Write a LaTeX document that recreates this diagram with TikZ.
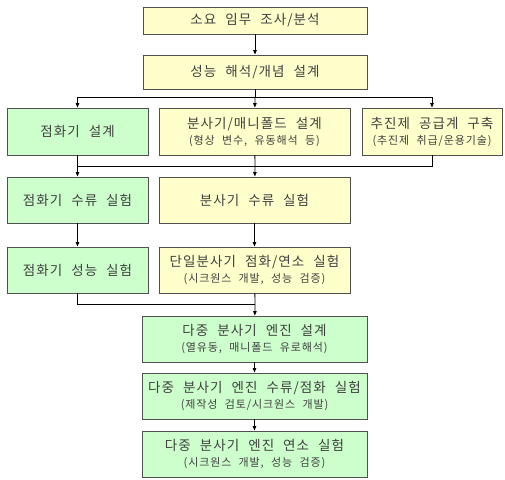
\documentclass[tikz,border=0pt]{standalone}
\usepackage{fontspec}
\setmainfont[LetterSpace=8,WordSpace=2.2]{Noto Sans CJK KR}
\usetikzlibrary{arrows.meta}
\definecolor{boxy}{HTML}{FFFFCC}
\definecolor{boxg}{HTML}{CCFFCC}
\definecolor{edge}{HTML}{505050}
\definecolor{ink}{HTML}{404040}
\newcommand{\sub}[1]{{\fontsize{11}{13}\selectfont #1}}
\begin{document}
\begin{tikzpicture}[x=1pt,y=-1pt,
    box/.style={draw=edge,line width=0.9pt,rectangle,align=center,text=ink,
        font=\fontsize{13.5}{16}\selectfont,inner sep=1pt},
    yel/.style={box,fill=boxy},
    grn/.style={box,fill=boxg},
    >={Triangle[length=4.5pt,width=3.5pt]},
    line width=0.8pt]
        \useasboundingbox (0,0) rectangle (505,479);
        \node [yel,minimum width=224,minimum height=27] (B1) at (255,20.5) {소요 임무 조사/분석};
        \node [yel,minimum width=224,minimum height=34] (B2) at (255,72) {성능 해석/개념 설계};
        \node [grn,minimum width=141,minimum height=47] (A1) at (77.5,131.5) {점화기 설계};
        \node [yel,minimum width=191,minimum height=47] (C1) at (254.5,131.5) {분사기/매니폴드 설계\\\sub{(형상 변수, 유동해석 등)}};
        \node [yel,minimum width=140,minimum height=47] (D1) at (432,131.5) {추진제 공급계 구축\\\sub{(추진제 취급/운용기술)}};
        \node [grn,minimum width=141,minimum height=46] (A2) at (77.5,200) {점화기 수류 실험};
        \node [yel,minimum width=191,minimum height=46] (C2) at (254.5,200) {분사기 수류 실험};
        \node [grn,minimum width=141,minimum height=46] (A3) at (77.5,270) {점화기 성능 실험};
        \node [yel,minimum width=191,minimum height=46] (C3) at (254.5,270) {단일분사기 점화/연소 실험\\\sub{(시크원스 개발, 성능 검증)}};
        \node [grn,minimum width=225,minimum height=46] (E1) at (254.5,339) {다중 분사기 엔진 설계\\\sub{(열유동, 매니폴드 유로해석)}};
        \node [grn,minimum width=225,minimum height=46] (E2) at (254.5,396) {다중 분사기 엔진 수류/점화 실험\\\sub{(제작성 검토/시크원스 개발)}};
        \node [grn,minimum width=225,minimum height=46] (E3) at (254.5,454) {다중 분사기 엔진 연소 실험\\\sub{(시크원스 개발, 성능 검증)}};
        \coordinate (S1) at (255,97);
        \coordinate (S2) at (255,166);
        \coordinate (S3) at (255,304);
        \draw [->] (B1) -- (B2);
        \draw (B2) -- (S1);
        \draw [->] (S1) -| (A1);
        \draw [->] (S1) -- (C1);
        \draw [->] (S1) -| (D1);
        \draw (A1) |- (S2);
        \draw (D1) |- (S2);
        \draw (C1) -- (S2);
        \draw [->] (S2) -| (A2);
        \draw [->] (S2) -- (C2);
        \draw [->] (A2) -- (A3);
        \draw [->] (C2) -- (C3);
        \draw (A3) |- (S3);
        \draw (C3) -- (S3);
        \draw [->] (S3) -- (E1);
        \draw [->] (E1) -- (E2);
        \draw [->] (E2) -- (E3);
    \end{tikzpicture}
\end{document}
